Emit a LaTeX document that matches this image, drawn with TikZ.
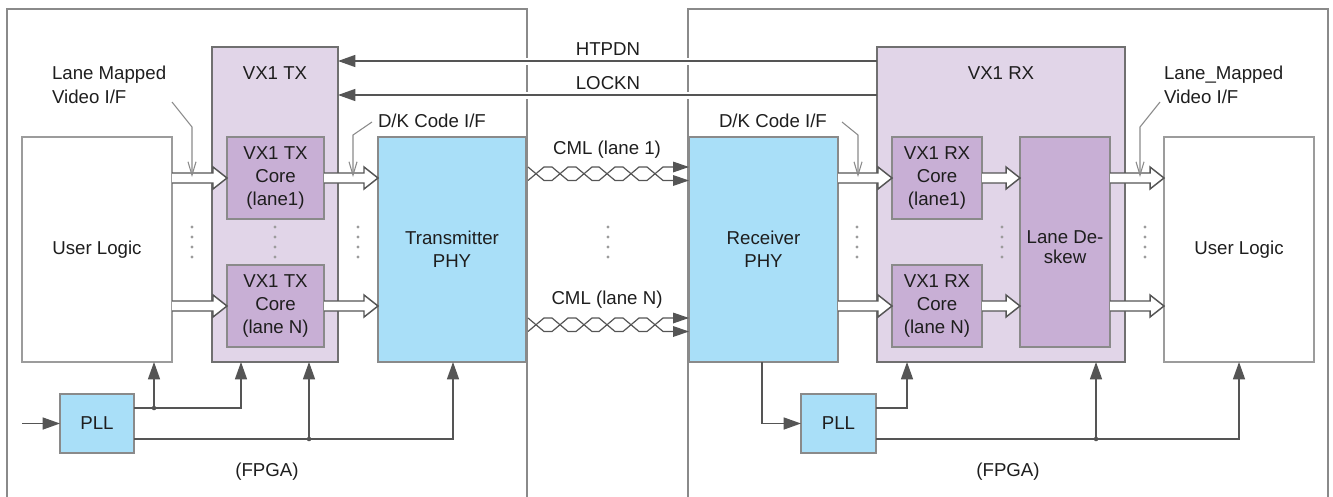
\documentclass[tikz,border=0pt]{standalone}
\usepackage{fontspec}
\setmainfont{Liberation Sans}
\usetikzlibrary{calc,arrows.meta}
\definecolor{lav}{HTML}{E1D5E8}
\definecolor{corec}{HTML}{C8AFD5}
\definecolor{phy}{HTML}{A9DFF8}
\definecolor{bord}{HTML}{8A8A8A}
\definecolor{dbord}{HTML}{707070}
\definecolor{conn}{HTML}{555555}
\definecolor{txt}{HTML}{1E1E1E}
\newcommand\widearr[3]{%
  \coordinate (wa) at (#1.east |- 0,#3);
  \coordinate (wb) at (#2.west |- 0,#3);
  \filldraw[widea] ($(wa)+(0,-5)$) -- ($(wb)+(-14,-5)$) -- ($(wb)+(-14,-11)$) -- (wb) -- ($(wb)+(-14,11)$) -- ($(wb)+(-14,5)$) -- ($(wa)+(0,5)$);
}
\newcommand\twistpair[3]{%
  \draw[wire] (528,#1) -- (544,#2) -- (552,#2) -- (568,#1) -- (576,#1) -- (592,#2) -- (599,#2) -- (615,#1) -- (623,#1) -- (639,#2) -- (647,#2) -- (663,#1) -- (#3.west |- 0,#1);
  \draw[wire] (528,#2) -- (544,#1) -- (552,#1) -- (568,#2) -- (576,#2) -- (592,#1) -- (599,#1) -- (615,#2) -- (623,#2) -- (639,#1) -- (647,#1) -- (663,#2) -- (#3.west |- 0,#2);
}
\begin{document}
\begin{tikzpicture}[x=0.75pt,y=-0.75pt,
  every node/.style={font=\fontsize{14}{17.5}\selectfont, text=txt, inner sep=0pt, outer sep=0pt},
  sz/.style 2 args={minimum width=#1*0.75pt, minimum height=#2*0.75pt},
  box/.style={draw=bord, line width=1.1pt, align=center},
  phybox/.style={box, fill=phy},
  corebox/.style={box, fill=corec},
  vxbox/.style={draw=dbord, line width=1.7pt, fill=lav},
  ulbox/.style={box, draw=bord!85, fill=white},
  fpga/.style={draw=bord, line width=1.5pt},
  ctl/.style={draw=conn, line width=1.1pt, -{Triangle[length=13pt,width=9pt]}},
  cline/.style={draw=conn, line width=1.1pt},
  lead/.style={draw=bord, line width=0.8pt, -{Straight Barb[length=10pt,width=6pt]}},
  widea/.style={draw=conn, line width=1.1pt, fill=white},
  wire/.style={draw=conn, line width=0.9pt, -{Triangle[length=12pt,width=8pt]}},
  lbl/.style={anchor=base, align=center},
]
\useasboundingbox (0,0) rectangle (1333,496);
% FPGA outlines
\draw[fpga] (7,497) -- (7,9) -- (527,9) -- (527,497);
\draw[fpga] (688,497) -- (688,9) -- (1328,9) -- (1328,497);
\fill[white] (524,57.5) rectangle (530,64.5);
\fill[white] (685,57.5) rectangle (691,64.5);
\fill[white] (524,91.5) rectangle (530,98.5);
\fill[white] (685,91.5) rectangle (691,98.5);

% TX side
\node[ulbox, sz={150}{225}] (ulL) at (97,249.5) {User Logic};
\node[vxbox, sz={126}{315}] (vtx) at (275,204.5) {};
\node[lbl] (vtxt) at (275,79) {VX1 TX};
\node[corebox, sz={97}{82}] (txc1) at (275.5,178) {VX1 TX\\Core\\(lane1)};
\node[corebox, sz={97}{82}] (txcN) at (275.5,306) {VX1 TX\\Core\\(lane N)};
\node[phybox, sz={148}{225}] (txphy) at (452,249.5) {Transmitter\\PHY};
\node[phybox, sz={74}{59}] (pllL) at (97,423.5) {PLL};

% RX side
\node[phybox, sz={149}{225}] (rxphy) at (763.5,249.5) {Receiver\\PHY};
\node[vxbox, sz={248}{315}] (vrx) at (1001,204.5) {};
\node[lbl] (vrxt) at (1001,79) {VX1 RX};
\node[corebox, sz={90}{82}] (rxc1) at (937,178) {VX1 RX\\Core\\(lane1)};
\node[corebox, sz={90}{82}] (rxcN) at (937,306) {VX1 RX\\Core\\(lane N)};
\node[corebox, sz={90}{210}] (desk) at (1065,242) {};
\node[align=center, font=\fontsize{14}{14.5}\selectfont] (deskt) at (1065,247) {Lane De-\\skew};
\node[ulbox, sz={150}{225}] (ulR) at (1239,249.5) {User Logic};
\node[phybox, sz={75}{59}] (pllR) at (838.5,423.5) {PLL};

% labels
\node[lbl] (ht) at (608,55) {HTPDN};
\node[lbl] (lk) at (608,89) {LOCKN};
\node[lbl] (cml1) at (607,154) {CML (lane 1)};
\node[lbl] (cmlN) at (607,304) {CML (lane N)};
\node[anchor=base west, align=left] (lmL) at (52,103) {Lane Mapped\\Video I/F};
\node[anchor=base west] (dkL) at (378,127) {D/K Code I/F};
\node[anchor=base west] (dkR) at (719,127) {D/K Code I/F};
\node[anchor=base west, align=left] (lmR) at (1164,103) {Lane\_Mapped\\Video I/F};
\node[lbl] (fpL) at (267,476) {(FPGA)};
\node[lbl] (fpR) at (1008,476) {(FPGA)};

% HTPDN / LOCKN
\draw[ctl] (vrx.west |- 0,61) -- (vtx.east |- 0,61);
\draw[ctl] (vrx.west |- 0,95) -- (vtx.east |- 0,95);

% wide arrows
\widearr{ulL}{txc1}{178}
\widearr{ulL}{txcN}{306}
\widearr{txc1}{txphy}{178}
\widearr{txcN}{txphy}{306}
\widearr{rxphy}{rxc1}{178}
\widearr{rxphy}{rxcN}{306}
\widearr{rxc1}{desk}{178}
\widearr{rxcN}{desk}{306}
\widearr{desk}{ulR}{178}
\widearr{desk}{ulR}{306}

% callout leaders
\coordinate (l1a) at (172,102); \coordinate (l1b) at (192,127);
\draw[lead] (l1a) -- (l1b) -- (192,177);
\coordinate (l2a) at (372,122); \coordinate (l2b) at (353,135);
\draw[lead] (l2a) -- (l2b) -- (353,177);
\coordinate (l3a) at (842,122); \coordinate (l3b) at (858,135);
\draw[lead] (l3a) -- (l3b) -- (858,177);
\coordinate (l4a) at (1160,102); \coordinate (l4b) at (1140,127);
\draw[lead] (l4a) -- (l4b) -- (1140,177);

% twisted pairs
\twistpair{167}{180.5}{rxphy}
\twistpair{318}{331.5}{rxphy}

% vertical dots
\foreach \x in {192,275,358,608,857,1002,1145}
  \foreach \y in {227,237,247,257}
    \fill[bord!85] (\x,\y) circle (1.2pt);

% clocks, TX side
\coordinate (inL) at (22,423.5);
\draw[ctl] (inL) -- (pllL.west);
\draw[ctl] (pllL.east |- 0,408) -- (241,408) -- (vtx.south -| 241,0);
\draw[ctl] (154,408) -- (ulL.south -| 154,0);
\draw[ctl] (pllL.east |- 0,439) -- (453,439) -- (txphy.south -| 453,0);
\draw[ctl] (309,439) -- (vtx.south -| 309,0);
\fill[conn] (154,408) circle (1.7pt);
\fill[conn] (309,439) circle (1.7pt);

% clocks, RX side
\draw[ctl] (rxphy.south -| 762,0) -- (762,423.5) -- (pllR.west);
\draw[ctl] (pllR.east |- 0,408) -- (907,408) -- (vrx.south -| 907,0);
\draw[ctl] (pllR.east |- 0,439) -- (1239,439) -- (ulR.south);
\draw[ctl] (1096,439) -- (vrx.south -| 1096,0);
\fill[conn] (1096,439) circle (1.7pt);
\end{tikzpicture}
\end{document}
